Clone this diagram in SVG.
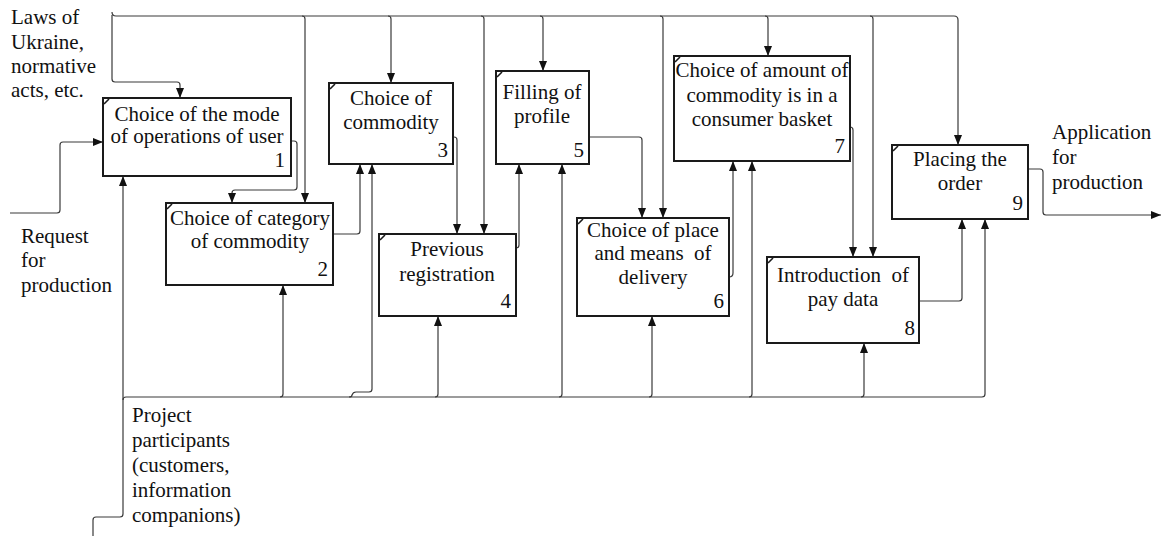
<svg xmlns="http://www.w3.org/2000/svg" width="1161" height="536" viewBox="0 0 1161 536">
  <style>
    .bg { fill: #ffffff; }
    .box { fill: #ffffff; stroke: #1a1a1a; stroke-width: 2; }
    .tick { stroke: #1a1a1a; stroke-width: 1.6; fill: none; }
    .wire { fill: none; stroke: #3a3a3a; stroke-width: 1.2; }
    .arr { marker-end: url(#ah); }
    text { font-family: "Liberation Serif", "Times New Roman", serif; font-size: 21px; fill: #111111; }
    .c { text-anchor: middle; }
    .n { text-anchor: end; }
  </style>
  <defs>
    <marker id="ah" viewBox="0 0 10 8" refX="10" refY="4" markerWidth="10" markerHeight="8" markerUnits="userSpaceOnUse" orient="auto">
      <path d="M0,0 L10,4 L0,8 Z" fill="#111111"/>
    </marker>
  </defs>
  <rect class="bg" x="0" y="0" width="1161" height="536"/>

  <!-- connectors -->
  <g id="connectors">
    <!-- control bus along the top -->
    <path class="wire arr" d="M112,12 Q112,16 116,16 H954 Q958,16 958,20 V145"/>
    <path class="wire arr" d="M112,15 V79 Q112,82 115,82 H177 Q180,82 180,85 V98"/>
    <path class="wire arr" d="M302,16 Q305,16 305,19 V203"/>
    <path class="wire arr" d="M388,16 Q391,16 391,19 V83"/>
    <path class="wire arr" d="M481,16 Q484,16 484,19 V234"/>
    <path class="wire arr" d="M540,16 Q543,16 543,19 V71"/>
    <path class="wire arr" d="M660,16 Q663,16 663,19 V218"/>
    <path class="wire arr" d="M765,16 Q768,16 768,19 V56"/>
    <path class="wire arr" d="M870,16 Q873,16 873,19 V257"/>

    <!-- input -->
    <path class="wire arr" d="M10,213 H57 Q60,213 60,210 V145 Q60,142 63,142 H103"/>

    <!-- box to box outputs -->
    <path class="wire arr" d="M291,141 H294 Q297,141 297,144 V187 Q297,190 294,190 H235 Q232,190 232,193 V203"/>
    <path class="wire arr" d="M333,234 H357 Q360,234 360,231 V164"/>
    <path class="wire arr" d="M453,137 H454 Q457,137 457,140 V234"/>
    <path class="wire arr" d="M516,248 Q519,248 519,245 V164"/>
    <path class="wire arr" d="M589,137 H639 Q642,137 642,140 V218"/>
    <path class="wire arr" d="M729,277 Q733,277 733,273 V161"/>
    <path class="wire arr" d="M850,127 Q853,127 853,130 V257"/>
    <path class="wire arr" d="M919,301 H959 Q962,301 962,298 V219"/>

    <!-- final output -->
    <path class="wire arr" d="M1028,169 H1040 Q1043,169 1043,172 V212 Q1043,215 1046,215 H1161"/>

    <!-- mechanism bus along the bottom -->
    <path class="wire arr" d="M93,536 V520 Q93,517 96,517 H120 Q123,517 123,514 V176"/>
    <path class="wire arr" d="M123,400 Q123,397 126,397 H982 Q985,397 985,394 V219"/>
    <path class="wire arr" d="M280,397 Q283,397 283,394 V285"/>
    <path class="wire arr" d="M349,397 Q352,397 352,395 Q353,392 356,392 H369 Q372,392 372,389 V164"/>
    <path class="wire arr" d="M435,397 Q438,397 438,394 V316"/>
    <path class="wire arr" d="M559,397 Q562,397 562,394 V164"/>
    <path class="wire arr" d="M649,397 Q652,397 652,394 V316"/>
    <path class="wire arr" d="M749,397 Q752,397 752,394 V161"/>
    <path class="wire arr" d="M861,397 Q864,397 864,394 V343"/>
  </g>

  <!-- activity boxes -->
  <g id="node1">
    <rect class="box" x="103" y="98" width="188" height="78"/>
    <path class="tick" d="M104,104 L109,99"/>
    <text class="c" x="197" y="121">Choice of the mode</text>
    <text class="c" x="197" y="143">of operations of user</text>
    <text class="n" x="285" y="167">1</text>
  </g>
  <g id="node2">
    <rect class="box" x="166" y="203" width="167" height="82"/>
    <path class="tick" d="M167,209 L172,204"/>
    <text class="c" x="250" y="225">Choice of category</text>
    <text class="c" x="250" y="248">of commodity</text>
    <text class="n" x="328" y="276">2</text>
  </g>
  <g id="node3">
    <rect class="box" x="329" y="83" width="124" height="81"/>
    <path class="tick" d="M330,89 L335,84"/>
    <text class="c" x="391" y="105">Choice of</text>
    <text class="c" x="391" y="129">commodity</text>
    <text class="n" x="448" y="157">3</text>
  </g>
  <g id="node4">
    <rect class="box" x="379" y="234" width="137" height="82"/>
    <path class="tick" d="M380,240 L385,235"/>
    <text class="c" x="447" y="256">Previous</text>
    <text class="c" x="447" y="281">registration</text>
    <text class="n" x="511" y="308">4</text>
  </g>
  <g id="node5">
    <rect class="box" x="496" y="71" width="93" height="93"/>
    <path class="tick" d="M497,77 L502,72"/>
    <text class="c" x="542" y="99">Filling of</text>
    <text class="c" x="542" y="123">profile</text>
    <text class="n" x="584" y="157">5</text>
  </g>
  <g id="node6">
    <rect class="box" x="577" y="218" width="152" height="98"/>
    <path class="tick" d="M578,224 L583,219"/>
    <text class="c" x="653" y="237">Choice of place</text>
    <text class="c" x="653" y="260" xml:space="preserve">and means  of</text>
    <text class="c" x="653" y="284">delivery</text>
    <text class="n" x="724" y="308">6</text>
  </g>
  <g id="node7">
    <rect class="box" x="674" y="56" width="176" height="105"/>
    <path class="tick" d="M675,62 L680,57"/>
    <text class="c" x="762" y="77">Choice of amount of</text>
    <text class="c" x="762" y="102">commodity is in a</text>
    <text class="c" x="762" y="126">consumer basket</text>
    <text class="n" x="845" y="153">7</text>
  </g>
  <g id="node8">
    <rect class="box" x="767" y="257" width="152" height="86"/>
    <path class="tick" d="M768,263 L773,258"/>
    <text class="c" x="843" y="282" xml:space="preserve">Introduction  of</text>
    <text class="c" x="843" y="306">pay data</text>
    <text class="n" x="915" y="335">8</text>
  </g>
  <g id="node9">
    <rect class="box" x="892" y="145" width="136" height="74"/>
    <path class="tick" d="M893,151 L898,146"/>
    <text class="c" x="960" y="166">Placing the</text>
    <text class="c" x="960" y="190">order</text>
    <text class="n" x="1023" y="210">9</text>
  </g>

  <!-- boundary labels -->
  <g id="label-controls">
    <text x="11" y="24">Laws of</text>
    <text x="11" y="49">Ukraine,</text>
    <text x="11" y="73">normative</text>
    <text x="11" y="97">acts, etc.</text>
  </g>
  <g id="label-input">
    <text x="21" y="243">Request</text>
    <text x="21" y="267">for</text>
    <text x="21" y="292">production</text>
  </g>
  <g id="label-output">
    <text x="1052" y="139">Application</text>
    <text x="1052" y="164">for</text>
    <text x="1052" y="189">production</text>
  </g>
  <g id="label-mechanisms">
    <text x="132" y="422">Project</text>
    <text x="132" y="447">participants</text>
    <text x="132" y="472">(customers,</text>
    <text x="132" y="497">information</text>
    <text x="132" y="522">companions)</text>
  </g>
</svg>
